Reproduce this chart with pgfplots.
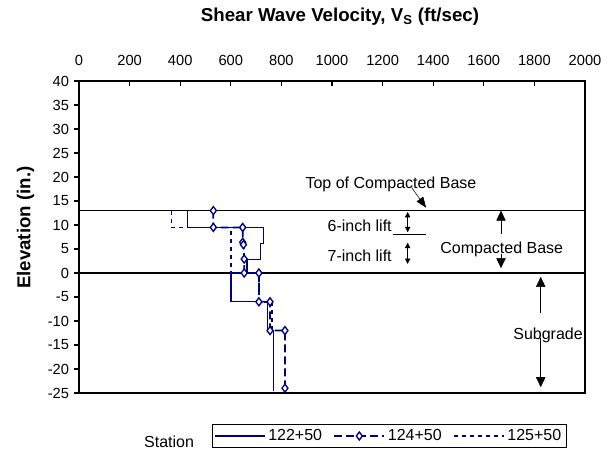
\documentclass[border=0pt]{standalone}
\usepackage{fontspec}
\setmainfont{Liberation Sans}
\usepackage{pgfplots}
\pgfplotsset{compat=1.18}
\usetikzlibrary{arrows.meta}
\definecolor{navy}{RGB}{0,0,128}
\begin{document}
\begin{tikzpicture}
\begin{axis}[
  scale only axis, width=379.5pt, height=234pt,
  xmin=0, xmax=2000, ymin=-25, ymax=40,
  xtick distance=200, ytick distance=5,
  xticklabel pos=top, ytick pos=left, xtick pos=top,
  tick align=inside, major tick length=3.5pt,
  xtick style={black, line width=0.9pt},
  ytick style={xshift=-3.5pt, black, line width=0.9pt},
  xticklabel style={yshift=8pt},
  yticklabel style={xshift=-4pt},
  /pgf/number format/assume math mode=true,
  /pgf/number format/1000 sep={},
  tick label style={font=\fontsize{11}{13}\selectfont},
  clip=false,
  axis line style={line width=0.8pt},
  legend columns=3,
  legend style={at={(rel axis cs:0.613,-0.138)}, anchor=center, draw=black, line width=0.6pt,
    font=\fontsize{12}{14}\selectfont, inner sep=1.5pt,
    /tikz/every even column/.append style={column sep=6.5pt}},
  legend image code/.code={\draw[mark repeat=2,mark phase=2,#1] plot coordinates {(0pt,0pt) (18.75pt,0pt) (37.5pt,0pt)};},
]
\draw[black, line width=0.9pt] (axis cs:0,13) -- (axis cs:2000,13);
\draw[black, line width=0.9pt] (axis cs:0,0) -- (axis cs:2000,0);

\addplot[navy, line width=0.9pt, mark=none] coordinates {
(430,13) (430,9.5) (728,9.5) (728,6.2) (716,6.2) (716,2.8) (664,2.8) (664,0) (601,0) (601,-6) (746,-6) (746,-12) (768,-12) (768,-24.5)};
\addlegendentry{122+50}
\addplot[navy, line width=1.3pt, dash pattern=on 6pt off 3pt, mark=diamond*, mark size=3pt,
  mark options={solid, fill=white, line width=1pt}] coordinates {
(531,13) (531,9.5) (647,9.5) (647,6.4) (650,5.9) (653,2.9) (653,0) (711,0) (711,-6) (755,-6) (755,-12) (814,-12) (814,-24)};
\addlegendentry{124+50}
\addplot[navy, line width=1.3pt, dash pattern=on 3pt off 3pt, mark=none] coordinates {
(366,13) (366,9.5) (601,9.5) (601,0) (711,0) (711,-6) (763,-6) (763,-12)};
\addlegendentry{125+50}

% annotations
\node[font=\fontsize{12}{14}\selectfont] at (axis cs:1233,18.5) {Top of Compacted Base};
\draw[-{Triangle[length=8pt,width=6pt]}] (axis cs:1316,17.7) -- (axis cs:1372,13.6);
\node[font=\fontsize{12}{14}\selectfont, anchor=east, inner sep=0pt] at (axis cs:1237,9.8) {6-inch lift};
\node[font=\fontsize{12}{14}\selectfont, anchor=east, inner sep=0pt] at (axis cs:1237,3.5) {7-inch lift};
\draw[{Triangle[length=4pt,width=4pt]}-{Triangle[length=4pt,width=4pt]}] (axis cs:1299,12.7) -- (axis cs:1299,8.5);
\draw[{Triangle[length=4pt,width=4pt]}-{Triangle[length=4pt,width=4pt]}] (axis cs:1299,6.3) -- (axis cs:1299,1.9);
\draw (axis cs:1241,8) -- (axis cs:1372,8);
\draw[-{Triangle[length=7.5pt,width=7pt]}] (axis cs:1668,8.1) -- (axis cs:1668,13);
\draw[-{Triangle[length=7.5pt,width=7pt]}] (axis cs:1668,4) -- (axis cs:1668,1.0);
\node[font=\fontsize{12}{14}\selectfont] at (axis cs:1671,4.9) {Compacted Base};
\draw[-{Triangle[length=7.5pt,width=7pt]}] (axis cs:1825,-8.4) -- (axis cs:1825,-0.8);
\draw[-{Triangle[length=7.5pt,width=7pt]}] (axis cs:1825,-13.5) -- (axis cs:1825,-23.8);
\node[font=\fontsize{12}{14}\selectfont] at (axis cs:1854,-12.9) {Subgrade};

% titles
\node[font=\bfseries\fontsize{14}{16}\selectfont] at ([xshift=6pt,yshift=48pt]rel axis cs:0.5,1) {Shear Wave Velocity, V\textsubscript{S} (ft/sec)};
\node[font=\bfseries\fontsize{14}{16}\selectfont, rotate=90] at ([xshift=-40pt]rel axis cs:0,0.53) {Elevation (in.)};
\node[font=\fontsize{12}{14}\selectfont] at (rel axis cs:0.178,-0.157) {Station};
\end{axis}
\pgfresetboundingbox
\path[use as bounding box] ([xshift=-59.25pt,yshift=-45.75pt]current axis.south west) rectangle ([xshift=23.25pt,yshift=60.75pt]current axis.north east);
\end{tikzpicture}
\end{document}
